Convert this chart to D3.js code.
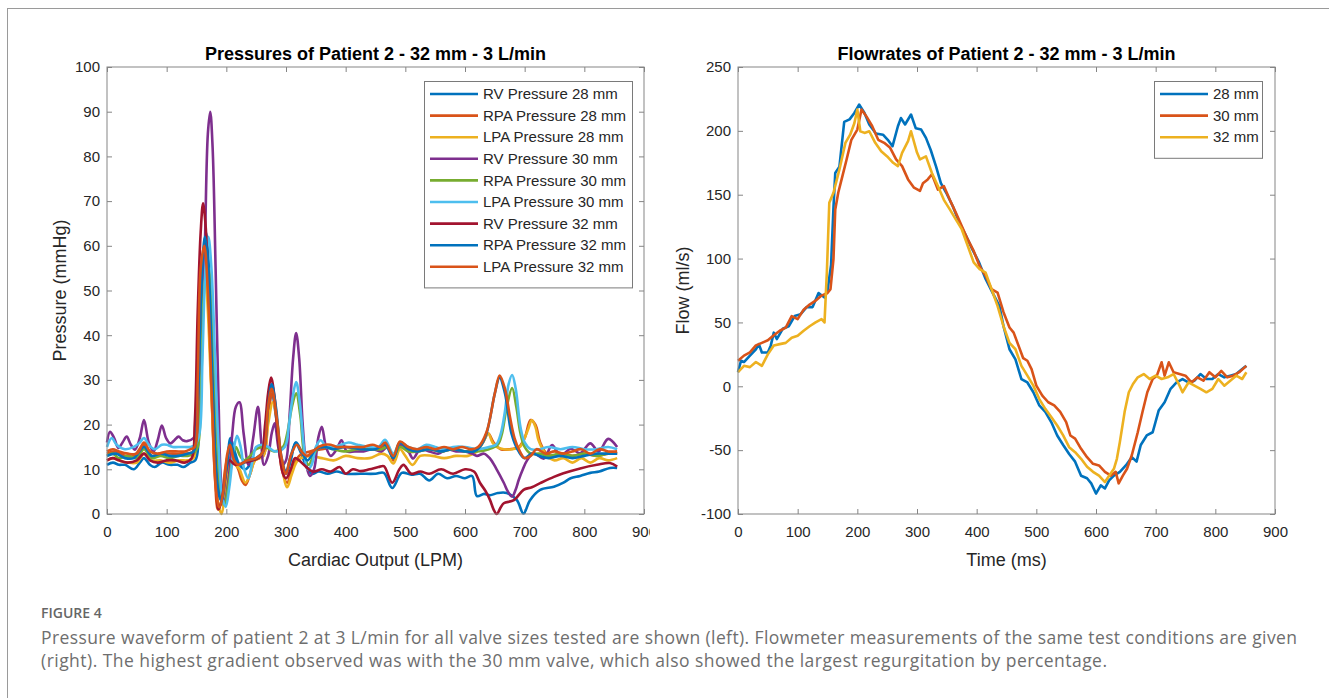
<!DOCTYPE html>
<html>
<head>
<meta charset="utf-8">
<script src="https://cdn.jsdelivr.net/npm/d3@7"></script>
<style>
  body { margin: 0; background: #fff; }
  svg { display: block; }
</style>
</head>
<body>
<script>
// ---- tick labels ----
const timeTicks = [0, 100, 200, 300, 400, 500, 600, 700, 800, 900];
const pressureTicks = [0, 10, 20, 30, 40, 50, 60, 70, 80, 90, 100];
const flowTicks = [-100, -50, 0, 50, 100, 150, 200, 250];

// ---- pressure series, [time, mmHg] ----
const rv28 = [[0,11],[10,11.5],[20,11],[30,11],[45,10],[55,11.5],[62,12.5],[72,11],[80,10.5],[92,11.5],[105,11],[118,11],[128,10.5],[140,11.5],[148,12],[155,25],[160,50],[166,63],[172,52],[180,25],[188,5],[195,2],[202,12],[207,17],[214,14],[222,11],[232,10],[245,12],[258,13],[266,20],[275,28],[283,22],[292,12],[300,9],[308,12],[316,16],[324,14],[333,11],[343,9],[355,9.5],[370,9],[385,9.5],[400,9],[425,9],[450,9],[464,9.2],[478,5.8],[494,9.2],[510,8.8],[525,9],[540,7.5],[555,9],[570,8],[585,8.5],[600,8],[612,8.5],[620,4],[632,4.5],[642,4.2],[655,4.7],[670,4.7],[687,3.1],[698,0.1],[709,3.1],[726,5.4],[749,6.1],[765,7],[777,8],[793,8.5],[810,9.2],[825,9.5],[843,10.3],[855,10.3]];
const rpa28 = [[0,13.5],[15,14],[30,13],[45,13],[62,15.5],[75,13],[90,13.5],[110,13.5],[130,13.5],[145,14],[150,20],[156,45],[162,58],[168,52],[175,28],[181,8],[186,1],[192,3],[198,10],[205,14],[212,12],[220,10],[226,7.5],[232,6.5],[240,9],[248,12],[262,13],[270,22],[277,27],[285,20],[293,10],[302,7],[310,10],[322,13],[340,14],[360,14.5],[380,15],[400,15],[420,14.5],[440,14.5],[460,15],[470,15.5],[480,12],[491,15.5],[505,14],[520,14],[540,14.5],[560,14],[580,14.5],[600,14],[620,14.5],[630,16],[639,18],[648,16],[660,14.5],[675,14.5],[690,15],[700,17],[710,21],[718,20],[726,16],[737,13.5],[750,13],[765,13.5],[780,13],[800,13.5],[820,13],[840,13.5],[855,13.5]];
const lpa28 = [[0,12],[10,12.5],[20,12],[35,11.5],[50,11.5],[62,13.5],[75,12],[90,12],[105,11.5],[120,12],[135,12],[145,12.5],[150,18],[155,40],[161,57],[167,50],[174,30],[181,10],[187,2],[192,0],[198,5],[205,12],[210,13],[216,11],[222,10],[232,7],[240,9],[248,12],[262,13],[270,20],[278,25],[286,20],[294,10],[302,6],[310,9],[320,12],[340,13],[360,12.5],[380,12],[400,13],[420,12.5],[440,12.5],[460,13.5],[470,13],[480,11.3],[491,14.5],[500,13],[512,11],[525,13],[545,13],[565,12.5],[585,13],[605,13],[620,14],[630,16],[639,18],[646,16],[653,15],[665,14.5],[680,14.5],[692,15],[700,17],[706,19],[712,21],[718,19.5],[723,16.6],[730,14.5],[737,13],[750,12],[765,12.5],[780,11.5],[795,12.5],[810,11.5],[825,12.5],[840,12],[855,12.5]];
const rv30 = [[0,16],[5,18.4],[12,17],[19,14.8],[26,16],[33,17.3],[40,15.5],[47,14.4],[55,17],[62,21],[70,16],[78,14],[85,16.5],[92,19.8],[99,17],[106,15.8],[113,16.5],[120,17.3],[127,16.5],[134,16.3],[145,17],[152,20],[158,35],[164,60],[169,85],[173,90],[177,82],[182,55],[187,25],[192,6],[197,3],[204,8],[210,18],[216,24],[222,25],[229,18],[237,11],[245,17],[253,24],[258,17],[263,11],[270,13],[276,18],[281,20.3],[287,15],[294,11],[300,12],[306,22],[312,35],[317,40.5],[322,35],[328,20],[334,11],[340,8.5],[347,10],[354,17],[360,19.5],[367,15],[375,13],[385,14.5],[393,16.5],[402,14],[415,14],[430,14],[445,14.5],[460,14],[470,15],[480,13],[491,15.5],[505,14],[513,12.4],[525,14.5],[540,14],[555,13.5],[570,14.5],[585,14],[600,14],[612,13.5],[620,13],[632,13.5],[642,12.4],[653,10],[665,7],[672,5],[679,3.9],[685,5.5],[690,7.6],[697,10],[704,12],[715,13.6],[732,12.4],[746,15.4],[760,13],[777,14.6],[793,13.6],[810,15.8],[824,14],[840,16.8],[855,15]];
const rpa30 = [[0,13],[10,13.5],[20,12.5],[35,13],[50,12.5],[62,14.5],[75,12.5],[90,13],[105,12.5],[120,13],[135,13],[145,13.5],[152,15],[158,30],[164,52],[170,55],[176,42],[183,20],[190,6],[197,2],[203,6],[210,12],[216,15],[223,13],[230,12],[240,13],[250,14.5],[265,15],[280,14],[295,15],[302,18],[310,24],[317,27],[324,22],[331,13],[338,11],[346,13],[355,15],[365,15],[380,14.5],[400,14],[420,14.5],[440,14.5],[460,14.5],[470,15],[480,13],[491,15],[505,14],[520,14],[540,14.5],[560,14],[580,14.5],[600,14],[620,14],[640,14.5],[655,15.5],[662,18],[670,24],[679,28.2],[686,24],[693,18],[700,15],[710,13.5],[725,13.5],[740,13],[760,13.5],[780,13],[800,13.5],[820,13],[840,13.5],[855,13.5]];
const lpa30 = [[0,15],[8,17],[16,15.5],[30,14.5],[45,15],[55,16],[62,17],[70,15.5],[80,14.5],[92,15.5],[100,15.5],[110,15],[125,15],[140,15],[148,15.5],[155,18],[160,35],[165,55],[170,62],[175,55],[181,35],[187,15],[193,4],[199,1.6],[205,6],[212,14],[218,17.5],[224,15],[230,10],[237,8],[244,12],[250,15],[260,15.5],[270,15],[282,14],[298,15],[305,20],[311,26],[317,29.5],[323,25],[330,15],[336,10],[343,11],[350,15],[358,16.5],[368,15],[380,15],[393,15.5],[405,16],[420,15.5],[440,15],[455,15],[466,16.6],[480,13.5],[491,16],[505,15],[520,14.5],[535,15.5],[550,15],[565,14.5],[580,15],[600,15],[620,14.5],[640,15],[652,15.5],[660,18],[667,23],[673,29],[679,31.1],[685,28],[693,19.4],[700,16],[710,14.5],[725,14.5],[740,15],[760,14.5],[780,15],[800,14.5],[820,14.5],[840,15],[855,14.5]];
const rv32 = [[0,12],[10,12.5],[20,12],[35,11.5],[50,12],[62,13.5],[72,12],[85,11.5],[100,12],[115,12],[130,11.5],[142,12.5],[147,20],[152,45],[157,63],[161,69.5],[165,65],[170,50],[176,30],[182,10],[187,1],[192,3],[198,8],[205,12],[215,11],[230,11.5],[245,12],[258,13],[265,20],[270,27],[275,30.5],[281,26],[288,15],[295,9],[300,8],[308,10],[315,12.5],[322,12],[330,11],[345,9.5],[360,10],[375,9.5],[390,10.5],[400,9],[412,10],[425,9.6],[440,10],[455,10.5],[464,10.7],[478,7],[490,10],[497,11],[510,9],[525,9.5],[540,9],[560,10],[580,9],[600,10],[615,9.5],[625,7],[635,5],[642,3.1],[648,1],[653,0],[660,1.5],[665,2.4],[682,3.1],[698,5.4],[712,6],[726,6.9],[749,8.3],[765,9.1],[793,10.2],[821,11],[843,11.4],[855,10.6]];
const rpa32 = [[0,13],[15,13.5],[30,12.5],[45,12.5],[62,15],[75,13],[90,13.5],[105,13],[120,13],[135,13.5],[145,14],[152,25],[158,50],[164,62],[170,55],[178,25],[186,5],[192,3],[200,10],[207,16],[214,13],[222,11],[235,12],[250,12.5],[262,14],[270,24],[276,29],[283,24],[292,13],[300,9.5],[308,13],[317,16],[326,14],[336,12],[350,14.5],[365,15],[380,14.5],[400,15],[425,14.5],[450,14.5],[466,15.5],[480,12.5],[491,16],[505,14.5],[520,14],[540,14.5],[560,14],[580,14.5],[600,14],[615,14],[625,15],[636,18],[650,27],[658,30.5],[667,27],[678,18],[690,14],[700,12.5],[712,13.5],[725,13],[740,12.5],[760,13],[780,12.5],[800,13],[820,13.5],[840,13.5],[855,13.5]];
const lpa32 = [[0,14],[10,14.5],[20,14],[35,13.5],[50,13.5],[62,16],[72,14],[85,13.5],[100,14],[115,14],[130,14],[140,14.5],[147,15],[152,30],[157,55],[163,60],[169,50],[176,25],[183,5],[188,1.5],[195,5],[201,13],[206,15.5],[213,12],[220,11],[235,12],[250,12.5],[262,14],[270,24],[276,28],[284,22],[292,13],[300,9],[308,13],[318,15.5],[326,14],[335,13],[345,14],[355,15],[365,15.5],[375,15.5],[385,15],[400,15],[415,15],[430,15],[445,15.5],[458,15],[466,16],[480,13],[491,16.2],[505,15],[520,14.5],[535,15],[550,14.5],[565,15],[580,14.5],[595,15],[610,14.5],[622,15],[636,18.3],[650,27],[658,31],[667,28],[675,22],[683,17],[692,14],[700,12.5],[710,13],[720,14.5],[735,13.5],[750,14],[765,13.5],[780,14],[795,14.5],[810,13.5],[825,14.5],[840,14],[855,14]];

// ---- flow series, [time, ml/s] ----
const flow28 = [[0,11],[5,20],[10,19],[20,24],[30,29],[35,33],[40,26.5],[50,26.5],[55,32],[60,42],[65,37],[75,45],[85,47],[95,55],[105,56.5],[115,62],[125,62],[135,73],[145,69.5],[150,75],[156,95],[160,140],[163,167],[170,172],[178,207],[187,209],[195,214],[203,220.6],[212,214],[220,205],[231,198],[243,197],[251,193],[259,188],[268,203.6],[273,210],[280,205],[290,212.8],[298,202],[307,201],[315,194.5],[323,185],[332,172],[340,159],[349,151.5],[360,141],[371,128],[382,118],[393,107],[404,97],[415,84],[427,73],[438,63],[445,47],[455,29],[465,21],[475,5.7],[485,3],[495,-4.7],[505,-15],[515,-20],[525,-28],[535,-38.5],[545,-46],[555,-53],[565,-59],[575,-70],[585,-72],[592,-76],[600,-84],[608,-77.6],[615,-80],[622,-73.7],[630,-70],[640,-67],[650,-62],[660,-55.5],[668,-59],[675,-46],[685,-38.5],[695,-36],[705,-19],[715,-12.5],[725,-2],[735,3],[745,5.7],[755,3],[765,4.4],[775,9.6],[785,5.7],[795,5.7],[805,9.6],[815,7],[825,8.3],[835,9.6],[845,13.5],[852,16]];
const flow30 = [[0,20],[10,24],[20,26.5],[30,32],[40,34],[50,36],[60,40],[70,43.5],[80,46],[90,55],[100,52.6],[110,60],[120,64],[130,67],[140,71],[150,73],[155,76],[160,99.5],[163,138.5],[168,151.5],[175,164.6],[182,177.6],[190,193],[200,201],[207,216.7],[215,211.5],[225,203.6],[235,193],[245,190.6],[255,186.7],[265,177.6],[275,172.4],[285,162],[295,155.5],[305,153],[310,159],[318,162],[325,166],[335,154],[345,156.8],[355,146],[365,136],[375,125.5],[385,115],[395,106],[405,94],[415,86.5],[425,76],[435,73.4],[445,58],[455,46],[462,42],[470,32],[478,22],[485,20],[492,13.5],[500,0.5],[510,-7.3],[520,-12.5],[530,-15],[540,-20],[550,-28],[557,-38.5],[565,-41],[575,-49],[585,-55.5],[595,-60.7],[605,-62],[615,-67],[625,-70],[633,-67],[638,-76],[645,-70],[652,-64.6],[660,-54],[670,-36],[678,-20],[686,-4.7],[695,5.7],[702,8.3],[710,18.8],[715,8.3],[722,18.8],[730,11],[740,9.6],[750,8.3],[760,3],[770,7],[780,4.4],[790,11],[800,7],[810,12],[820,7],[830,8.3],[840,11],[852,16]];
const flow32 = [[0,11],[10,16],[20,15],[30,19],[40,16],[50,25],[60,32],[70,33],[80,34],[90,38],[100,39.6],[110,43.5],[120,47],[130,50],[140,52.6],[145,50],[149,90],[153,143.7],[160,151.5],[170,169.8],[180,190.6],[188,197],[195,206],[200,216.7],[205,199.7],[212,198.4],[220,199.7],[230,190.6],[240,184],[250,180],[260,175],[268,172.4],[275,182.8],[285,192],[290,199.7],[300,183],[305,177.6],[315,180],[325,167],[335,156.8],[345,146],[355,138.5],[365,130.7],[375,123],[385,110],[395,97],[405,91.7],[415,89],[425,76],[435,63],[445,47],[455,34],[465,29],[475,16],[485,8.3],[495,0.5],[505,-10],[515,-17.7],[525,-24],[535,-30.7],[545,-38.5],[555,-47.7],[565,-51.6],[575,-56.8],[585,-63],[595,-67],[605,-70],[615,-75],[622,-70],[630,-64.6],[635,-56.8],[640,-43.7],[648,-20],[655,-4.7],[662,1.8],[670,7],[680,9.6],[690,5.7],[700,8.3],[710,5.7],[720,7],[730,9.6],[740,0.5],[745,-4.7],[755,3],[765,0.5],[775,-2],[785,-4.7],[795,-2],[805,5.7],[815,0.5],[825,4.4],[835,8.3],[845,5.7],[852,11]];

const pressureNames = ['RV Pressure 28 mm', 'RPA Pressure 28 mm', 'LPA Pressure 28 mm',
  'RV Pressure 30 mm', 'RPA Pressure 30 mm', 'LPA Pressure 30 mm',
  'RV Pressure 32 mm', 'RPA Pressure 32 mm', 'LPA Pressure 32 mm'];
const flowNames = ['28 mm', '30 mm', '32 mm'];

const matlab = ['#0072BD', '#D95319', '#EDB120', '#7E2F8E', '#77AC30', '#4DBEEE', '#A2142F'];

const pressureSeries = [rv28, rpa28, lpa28, rv30, rpa30, lpa30, rv32, rpa32, lpa32]
  .map((v, i) => ({ name: pressureNames[i], color: matlab[i % 7], values: v }));
const flowSeries = [flow28, flow30, flow32]
  .map((v, i) => ({ name: flowNames[i], color: matlab[i], values: v }));

const W = 1329, H = 698;
const axisGray = '#858585';
const textDark = '#262626';
const font = '"Liberation Sans", Arial, sans-serif';

const svg = d3.select('body').append('svg')
  .attr('width', W)
  .attr('height', H);

// outer frame of the figure
svg.append('rect')
  .attr('x', 7.5).attr('y', 8.5)
  .attr('width', 1400).attr('height', 800)
  .attr('fill', 'none')
  .attr('stroke', '#9a9a9a');

svg.append('defs').append('clipPath')
  .attr('id', 'leftClip')
  .append('rect')
  .attr('x', 0).attr('y', 0).attr('width', 650).attr('height', 600);

function drawPanel(cfg) {
  const g = svg.append('g');
  if (cfg.clip) g.attr('clip-path', 'url(#' + cfg.clip + ')');

  const x = d3.scaleLinear().domain([0, 900]).range([cfg.left, cfg.right]);
  const y = d3.scaleLinear().domain(cfg.yDomain).range([cfg.bottom, cfg.top]);

  // ticks pointing inward on all four sides
  const styleAxis = sel => {
    sel.select('.domain').remove();
    sel.selectAll('.tick line').attr('stroke', axisGray);
    sel.selectAll('.tick text')
      .attr('fill', textDark)
      .style('font-family', font)
      .style('font-size', '15px');
  };
  g.append('g')
    .attr('transform', 'translate(0,' + cfg.bottom + ')')
    .call(d3.axisBottom(x).tickValues(timeTicks).tickSize(-5).tickPadding(12).tickFormat(d => String(d)))
    .call(styleAxis);
  g.append('g')
    .attr('transform', 'translate(0,' + cfg.top + ')')
    .call(d3.axisTop(x).tickValues(timeTicks).tickSize(-5).tickFormat(''))
    .call(styleAxis);
  g.append('g')
    .attr('transform', 'translate(' + cfg.left + ',0)')
    .call(d3.axisLeft(y).tickValues(cfg.yTicks).tickSize(-5).tickPadding(7).tickFormat(d => String(d)))
    .call(styleAxis);
  g.append('g')
    .attr('transform', 'translate(' + cfg.right + ',0)')
    .call(d3.axisRight(y).tickValues(cfg.yTicks).tickSize(-5).tickFormat(''))
    .call(styleAxis);

  const line = d3.line()
    .x(d => x(d[0]))
    .y(d => y(d[1]))
    .curve(cfg.curve);

  g.selectAll('path.series')
    .data(cfg.series)
    .enter()
    .append('path')
    .attr('class', 'series')
    .attr('d', d => line(d.values))
    .attr('fill', 'none')
    .attr('stroke', d => d.color)
    .attr('stroke-width', 2.6)
    .attr('stroke-linejoin', 'round');

  g.append('rect')
    .attr('x', cfg.left).attr('y', cfg.top)
    .attr('width', cfg.right - cfg.left)
    .attr('height', cfg.bottom - cfg.top)
    .attr('fill', 'none')
    .attr('stroke', axisGray);

  const mid = (cfg.left + cfg.right) / 2;
  g.append('text')
    .attr('x', mid).attr('y', 60)
    .attr('text-anchor', 'middle')
    .attr('fill', '#000')
    .style('font-family', font)
    .style('font-weight', 'bold')
    .style('font-size', '18px')
    .text(cfg.title);
  g.append('text')
    .attr('x', mid).attr('y', 566)
    .attr('text-anchor', 'middle')
    .attr('fill', textDark)
    .style('font-family', font)
    .style('font-size', '18px')
    .text(cfg.xLabel);
  g.append('text')
    .attr('transform', 'translate(' + cfg.yLabelX + ',' + (cfg.top + cfg.bottom) / 2 + ') rotate(-90)')
    .attr('text-anchor', 'middle')
    .attr('fill', textDark)
    .style('font-family', font)
    .style('font-size', '18px')
    .text(cfg.yLabel);

  // legend
  const L = cfg.legend;
  const n = cfg.series.length;
  const lg = g.append('g');
  lg.append('rect')
    .attr('x', L.x + 0.5).attr('y', L.y + 0.5)
    .attr('width', L.w).attr('height', L.rowH * n + 12)
    .attr('fill', '#fff')
    .attr('stroke', '#7a7a7a');
  const rows = lg.selectAll('g.row')
    .data(cfg.series)
    .enter()
    .append('g')
    .attr('transform', (d, i) => 'translate(' + L.x + ',' + (L.y + 13 + i * L.rowH) + ')');
  rows.append('line')
    .attr('x1', 6).attr('x2', 54)
    .attr('stroke', d => d.color)
    .attr('stroke-width', 2.6);
  rows.append('text')
    .attr('x', 59)
    .attr('dy', '0.35em')
    .attr('fill', textDark)
    .style('font-family', font)
    .style('font-size', '15px')
    .text(d => d.name);
}

drawPanel({
  left: 107, right: 644, top: 67, bottom: 514,
  yDomain: [0, 100], yTicks: pressureTicks,
  series: pressureSeries,
  curve: d3.curveCatmullRom.alpha(0.5),
  title: 'Pressures of Patient 2 - 32 mm - 3 L/min',
  xLabel: 'Cardiac Output (LPM)',
  yLabel: 'Pressure (mmHg)', yLabelX: 66,
  legend: { x: 424, y: 81, w: 208, rowH: 21.6 },
  clip: 'leftClip'
});

drawPanel({
  left: 738, right: 1275, top: 67, bottom: 514,
  yDomain: [-100, 250], yTicks: flowTicks,
  series: flowSeries,
  curve: d3.curveLinear,
  title: 'Flowrates of Patient 2 - 32 mm - 3 L/min',
  xLabel: 'Time (ms)',
  yLabel: 'Flow (ml/s)', yLabelX: 689,
  legend: { x: 1154, y: 81, w: 108, rowH: 21.6 }
});

// caption
const capFont = '"Open Sans", "Noto Sans", sans-serif';
svg.append('text')
  .attr('x', 41).attr('y', 618)
  .attr('fill', '#666')
  .style('font-family', capFont)
  .style('font-weight', 600)
  .style('font-size', '14px')
  .text('FIGURE 4');
const captionLines = [
  'Pressure waveform of patient 2 at 3 L/min for all valve sizes tested are shown (left). Flowmeter measurements of the same test conditions are given',
  '(right). The highest gradient observed was with the 30 mm valve, which also showed the largest regurgitation by percentage.'
];
const captionWidths = [1256, 1066];
svg.selectAll('text.caption')
  .data(captionLines)
  .enter()
  .append('text')
  .attr('class', 'caption')
  .attr('x', 41)
  .attr('y', (d, i) => 644 + i * 23)
  .attr('fill', '#6e6e6e')
  .attr('textLength', (d, i) => captionWidths[i])
  .attr('lengthAdjust', 'spacing')
  .style('font-family', capFont)
  .style('font-size', '17.5px')
  .text(d => d);
</script>
</body>
</html>
